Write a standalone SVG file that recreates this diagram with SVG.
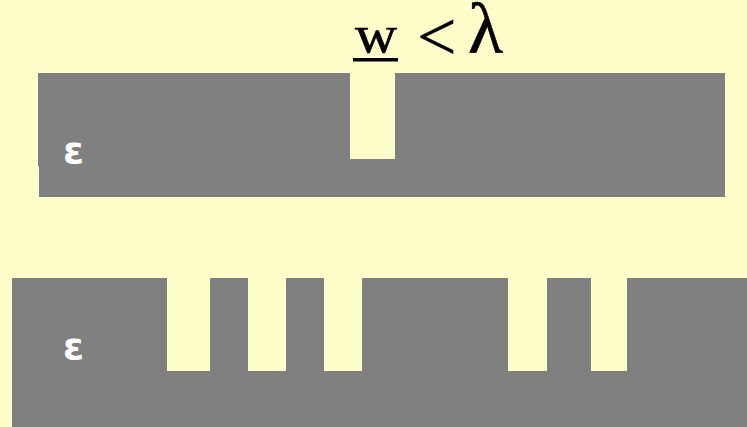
<svg xmlns="http://www.w3.org/2000/svg" width="747" height="427" viewBox="0 0 747 427">
<style>
.g{fill:#808080}
.bg{fill:#FFFFCC}
.eps{fill:#ffffff;font-family:"DejaVu Sans",sans-serif;font-weight:bold;font-size:38px}
.t{fill:#000;stroke:#000;stroke-width:0.6;font-family:"Liberation Serif",serif}
</style>
<rect width="747" height="427" class="bg"/>
<g id="label">
<text x="355" y="52" class="t" style="font-size:53px" textLength="42" lengthAdjust="spacingAndGlyphs">w</text>
<rect x="353" y="58" width="45" height="3.5" fill="#000"/>
<text x="417" y="60" class="t" style="font-size:70px;stroke-width:0.4">&lt;</text>
<text x="468" y="53" class="t" style="font-size:72px">λ</text>
</g>
<g id="top-block">
<path class="g" d="M38,73 H350 V159 H395 V73 H725 V197 H39 V166 H38 Z"/>
<text x="63" y="163" class="eps">ε</text>
</g>
<g id="bottom-block">
<path class="g" d="M12,278 H167 V371 H210 V278 H248 V371 H286 V278 H324 V371 H362 V278 H508 V371 H547 V278 H591 V371 H627 V278 H747 V427 H12 Z"/>
<text x="63" y="359" class="eps">ε</text>
</g>
</svg>
